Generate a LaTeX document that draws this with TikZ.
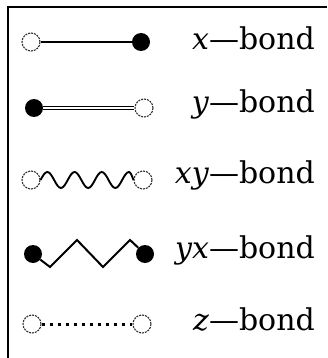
\documentclass[tikz,border=0pt]{standalone}
\usepackage{fontspec}
\setmainfont{DejaVu Serif}
\usetikzlibrary{positioning}

\begin{document}
\begin{tikzpicture}[x=1pt,y=-1pt,
 open/.style={circle,draw=black!80,dash pattern=on 2pt off 1pt,line width=1.1pt,fill=white,minimum size=18pt,inner sep=0pt},
 full/.style={circle,fill=black,minimum size=18pt,inner sep=0pt},
 lab/.style={anchor=east,inner sep=0pt,font=\fontsize{30}{33}\selectfont}]
\useasboundingbox (0,0) rectangle (327,358);
\draw[line width=1.8pt] (327,7)--(8,7)--(8,358);

% x-bond
\node[open] (xa) at (31,42) {};
\node[full] (xb) at (141,42) {};
\draw[line width=1.8pt] (xa)--(xb);
\node[lab] (xlab) at (315,38) {\textit{x}—bond};

% y-bond
\node[full] (ya) at (34,108) {};
\node[open] (yb) at (144,108) {};
\draw[double,line width=1.3pt,double distance=1.3pt] (ya)--(yb);
\node[lab] (ylab) at (315,104) {\textit{y}—bond};

% xy-bond
\node[open] (xya) at (31,180) {};
\node[open] (xyb) at (143,180) {};
\draw[line width=1.9pt] (xya.east) \foreach \i in {1,2,3} {sin ++(6.8,-8) cos ++(6.8,8) sin ++(6.8,8) cos ++(6.8,-8)} sin ++(6.8,-8) cos (xyb.west);
\node[lab] (xylab) at (315,175) {\textit{xy}—bond};

% yx-bond
\node[full] (yxa) at (33,254) {};
\node[full] (yxb) at (145,254) {};
\draw[line width=2pt] (yxa)--++(17,13)--++(27,-27)--++(26,27)--++(27,-27)--(yxb);
\node[lab] (yxlab) at (315,250) {\textit{yx}—bond};

% z-bond
\node[open] (za) at (32,324) {};
\node[open] (zb) at (142,324) {};
\draw[line width=3pt,dash pattern=on 3.2pt off 4.8pt] (za)--(zb);
\node[lab] (zlab) at (315,319) {\textit{z}—bond};
\end{tikzpicture}
\end{document}
